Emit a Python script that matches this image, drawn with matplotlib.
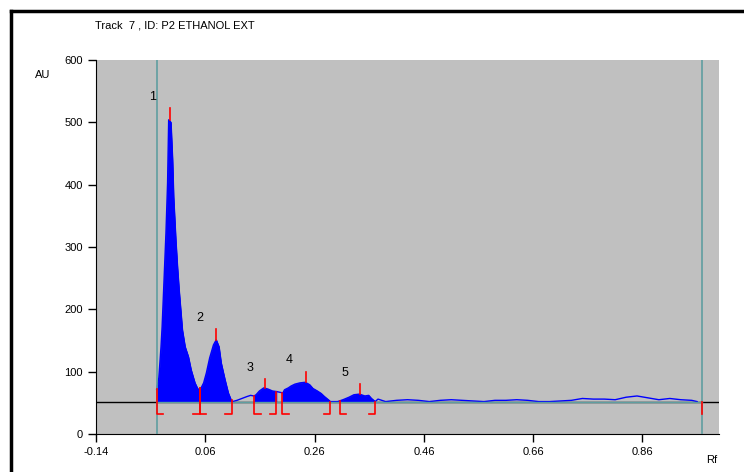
# TLC densitogram - track 7, P2 ethanol extract
import matplotlib.pyplot as plt
from matplotlib.lines import Line2D
import numpy as np

plt.rcParams['font.family'] = ['Liberation Sans', 'DejaVu Sans']
plt.rcParams['axes.unicode_minus'] = False

# scanned trace (Rf, AU)
rf = [-0.029, -0.025, -0.021, -0.019, -0.016, -0.012, -0.009, -0.007, -0.003, 0.000,
      0.002, 0.006, 0.009, 0.012, 0.015, 0.018, 0.023, 0.029, 0.034, 0.041,
      0.047, 0.053, 0.057, 0.062, 0.068, 0.075, 0.080, 0.085, 0.089, 0.096,
      0.102, 0.107, 0.110, 0.118, 0.127, 0.136, 0.143, 0.149, 0.153, 0.159,
      0.167, 0.175, 0.183, 0.191, 0.196, 0.202, 0.205, 0.212, 0.217, 0.224,
      0.233, 0.243, 0.251, 0.257, 0.265, 0.272, 0.278, 0.285, 0.289, 0.297,
      0.302, 0.312, 0.323, 0.332, 0.342, 0.352, 0.359, 0.364, 0.371, 0.376,
      0.383, 0.390, 0.41, 0.43, 0.45, 0.47, 0.49, 0.51, 0.53, 0.55,
      0.57, 0.59, 0.61, 0.63, 0.65, 0.67, 0.69, 0.71, 0.73, 0.75,
      0.77, 0.79, 0.81, 0.83, 0.85, 0.87, 0.89, 0.91, 0.93, 0.95, 0.96]
au = [72, 90, 140, 172, 236, 322, 403, 504, 500, 440,
      380, 311, 268, 231, 199, 167, 140, 124, 103, 82,
      71, 75, 82, 98, 122, 143, 151, 140, 114, 87,
      66, 55, 52, 54, 57, 60, 62, 61, 63, 69,
      74, 72, 69, 68, 67, 66, 71, 74, 77, 80,
      82, 83, 79, 73, 69, 65, 60, 55, 52, 52,
      52, 55, 59, 63, 64, 61, 62, 57, 52, 56,
      54, 52, 54, 55, 54, 52, 54, 55, 54, 53,
      52, 54, 54, 55, 54, 52, 52, 53, 54, 57,
      56, 56, 55, 59, 61, 58, 55, 57, 55, 54, 52]

baseline = 52
track = [-0.029, 0.969]

# integrated peaks
peak_ids = ['1', '2', '3', '4', '5']
peak_start = [-0.029, 0.050, 0.150, 0.201, 0.306]
peak_end = [0.050, 0.108, 0.190, 0.289, 0.371]
peak_rf = [-0.005, 0.079, 0.169, 0.244, 0.344]
peak_au = [503, 151, 74, 83, 64]
peak_top = [523, 169, 88, 100, 80]
label_rf = [-0.036, 0.050, 0.141, 0.214, 0.315]
label_au = [541, 186, 106, 119, 98]

rf = np.array(rf)
au = np.array(au)

fig = plt.figure(figsize=(7.44, 4.72), dpi=100)
ax = fig.add_axes([0.129, 0.0805, 0.8374, 0.7924])
ax.set_facecolor('#c0c0c0')

ax.set_xlim(-0.14, 1.0)
ax.set_ylim(0, 600)

# baseline: black across, teal inside the track
ax.axhline(baseline, color='black', lw=1.0, zorder=1)

for s, e in zip(peak_start, peak_end):
    m = (rf > s) & (rf < e)
    xs = np.concatenate([[s], rf[m], [e]])
    ys = np.concatenate([[np.interp(s, rf, au)], au[m], [np.interp(e, rf, au)]])
    ax.fill_between(xs, baseline, ys, color='#0000ff', lw=0.6,
                    edgecolor='#0000ff', zorder=2)
ax.plot(rf, au, color='#0000ff', lw=1.0, zorder=2)
ax.plot(track, [baseline, baseline], color='#5f9ea0', lw=1.0, zorder=3)

for x in track:
    ax.axvline(x, color='#5f9ea0', lw=1.2, zorder=4)

# peak markers
for x, y0, y1 in zip(peak_rf, peak_au, peak_top):
    ax.plot([x, x], [y0, y1], color='#ff0000', lw=1.2, zorder=5)

# integration brackets
foot = 0.012
low = 32
for s, e in zip(peak_start, peak_end):
    ys = max(np.interp(s, rf, au), baseline)
    ye = max(np.interp(e, rf, au), baseline)
    ax.plot([s, s, s + foot], [ys, low, low], color='#ff0000', lw=1.2, zorder=5)
    ax.plot([e, e, e - foot], [ye, low, low], color='#ff0000', lw=1.2, zorder=5)
ax.plot([track[1], track[1]], [baseline, low], color='#ff0000', lw=1.2, zorder=5)

for t, x, y in zip(peak_ids, label_rf, label_au):
    ax.text(x, y, t, fontsize=9, ha='center', va='center', zorder=6)

xt = [-0.14, 0.06, 0.26, 0.46, 0.66, 0.86]
ax.set_xticks(xt)
ax.set_xticklabels(['-0.14', '0.06', '0.26', '0.46', '0.66', '0.86'])
ax.set_yticks(range(0, 601, 100))
ax.tick_params(axis='both', labelsize=8, length=6, width=1, direction='out')
ax.spines['top'].set_visible(False)
ax.spines['right'].set_visible(False)

fig.text(35 / 744, 1 - 75 / 472, 'AU', fontsize=8, ha='left', va='center')
fig.text(706 / 744, 1 - 460 / 472, 'Rf', fontsize=8, ha='left', va='center')
fig.text(95 / 744, 1 - 26 / 472, 'Track  7 , ID: P2 ETHANOL EXT', fontsize=8,
         ha='left', va='center')

# outer frame (left and top only visible)
fig.add_artist(Line2D([11 / 744, 11 / 744], [0, 1 - 11 / 472], color='black', lw=2.5))
fig.add_artist(Line2D([11 / 744, 1], [1 - 11 / 472, 1 - 11 / 472], color='black', lw=2.5))

fig.savefig('out.png', dpi=100)
